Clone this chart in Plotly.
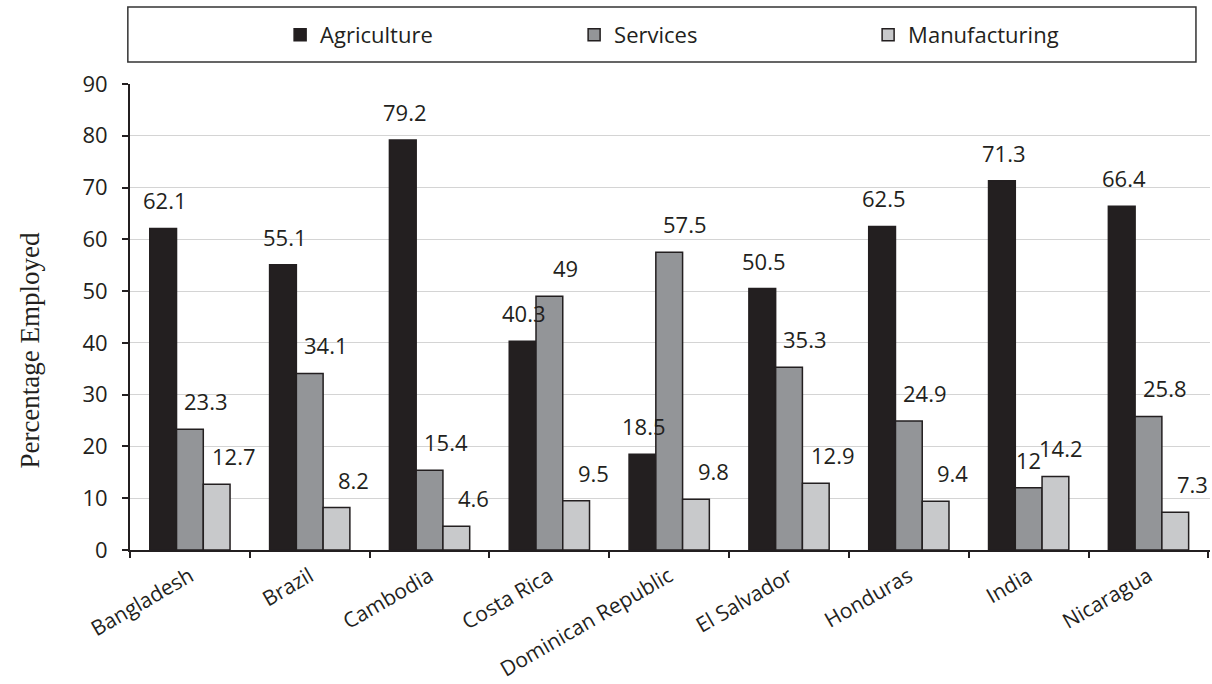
import plotly.graph_objects as go

countries = ["Bangladesh", "Brazil", "Cambodia", "Costa Rica", "Dominican Republic",
             "El Salvador", "Honduras", "India", "Nicaragua"]
agriculture = [62.1, 55.1, 79.2, 40.3, 18.5, 50.5, 62.5, 71.3, 66.4]
services = [23.3, 34.1, 15.4, 49, 57.5, 35.3, 24.9, 12, 25.8]
manufacturing = [12.7, 8.2, 4.6, 9.5, 9.8, 12.9, 9.4, 14.2, 7.3]
y_ticks = [0, 10, 20, 30, 40, 50, 60, 70, 80, 90]

series = [
    ("Agriculture", agriculture, "#231f20"),
    ("Services", services, "#939598"),
    ("Manufacturing", manufacturing, "#c8c9cb"),
]

FONT = "Open Sans"
fig = go.Figure()
for name, vals, col in series:
    fig.add_trace(go.Bar(
        name=name, x=countries, y=vals,
        marker=dict(color=col, line=dict(color="#231f20", width=1.5)),
    ))

# data labels (shifted like the reference)
bar_px = 27
series_dx = [2, 16, 17]
nudges = {("India", 1): -16, ("India", 2): -12}
for si, (name, vals, col) in enumerate(series):
    for c, v in zip(countries, vals):
        dx = (si - 1) * bar_px + series_dx[si] + nudges.get((c, si), 0)
        fig.add_annotation(
            x=c, y=v, text=f"{v:g}", showarrow=False,
            xshift=dx, yshift=28, yanchor="middle",
            font=dict(family=FONT, size=22, color="#231f20"),
        )

# y axis title (placed like the reference, slightly below centre)
fig.add_annotation(
    xref="paper", yref="paper", x=-0.0926, xanchor="center", y=0.43, yanchor="middle",
    text="Percentage Employed", textangle=-90, showarrow=False,
    font=dict(family="Liberation Serif", size=27, color="#231f20"),
)

# legend frame
fig.add_shape(type="rect", xref="paper", yref="paper",
              x0=-0.002, x1=0.987, y0=1.047, y1=1.165,
              line=dict(color="#333333", width=1.5), fillcolor="rgba(0,0,0,0)")

fig.update_layout(
    width=1212, height=684,
    margin=dict(l=130, r=2, t=84, b=134, autoexpand=False),
    paper_bgcolor="white", plot_bgcolor="white",
    barmode="group", bargap=0.33, bargroupgap=0,
    font=dict(family=FONT, size=22, color="#231f20"),
    showlegend=True,
    legend=dict(orientation="h", x=0.139, xanchor="left", y=1.105, yanchor="middle",
                entrywidth=249, entrywidthmode="pixels",
                font=dict(family=FONT, size=22, color="#231f20"),
                bgcolor="rgba(0,0,0,0)", itemclick=False),
    xaxis=dict(
        showgrid=False, tickson="boundaries", ticks="outside", ticklen=6,
        tickwidth=1.5, tickcolor="#231f20", automargin=False,
        showline=True, linecolor="#231f20", linewidth=2,
        tickangle=-30, ticklabelstandoff=4,
        tickfont=dict(family=FONT, size=21, color="#231f20"),
    ),
    yaxis=dict(
        range=[0, 90], tickvals=y_ticks, showgrid=True, gridcolor="#d4d4d4", gridwidth=1,
        ticks="outside", ticklen=6, tickwidth=1.5, tickcolor="#231f20",
        showline=True, linecolor="#231f20", linewidth=2, zeroline=False,
        ticklabelstandoff=10, automargin=False,
        tickfont=dict(family=FONT, size=22, color="#231f20"),
    ),
)

fig.write_html("out.html")
